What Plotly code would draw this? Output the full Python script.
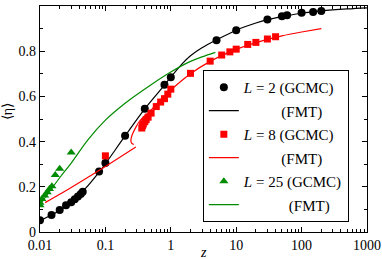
import plotly.graph_objects as go

# ---- data ----
z_L2_gcmc = [0.01, 0.015, 0.02, 0.025, 0.03, 0.034, 0.038, 0.042, 0.045, 0.08, 0.1, 0.2,
             0.4, 0.8, 1.0, 5, 10, 30, 50, 60, 100, 150, 200]
eta_L2_gcmc = [0.052, 0.075, 0.097, 0.118, 0.132, 0.145, 0.157, 0.168, 0.178, 0.268, 0.305, 0.426,
               0.545, 0.651, 0.685, 0.849, 0.893, 0.940, 0.955, 0.959, 0.970, 0.974, 0.978]

z_L2_fmt = [0.01, 0.02, 0.03, 0.05, 0.08, 0.1, 0.2, 0.4, 0.8, 1, 1.5, 2, 3, 5, 10, 20, 30,
            50, 100, 200, 500, 1000]
eta_L2_fmt = [0.05, 0.095, 0.13, 0.194, 0.265, 0.302, 0.425, 0.545, 0.65, 0.685, 0.745, 0.78,
              0.815, 0.85, 0.893, 0.925, 0.94, 0.953, 0.968, 0.978, 0.987, 0.992]

z_L8_gcmc = [0.1, 0.36, 0.37, 0.38, 0.40, 0.42, 0.45, 0.5, 0.6, 0.7, 0.8, 0.9, 1.0, 2, 4, 6, 8,
             10, 15, 20, 30, 40]
eta_L8_gcmc = [0.337, 0.46, 0.47, 0.478, 0.488, 0.497, 0.508, 0.526, 0.555, 0.575, 0.59, 0.61,
               0.632, 0.702, 0.756, 0.783, 0.797, 0.809, 0.83, 0.839, 0.854, 0.864]

# FMT L=8: lower branch, then upper branch (separated by a gap)
z_L8_fmt_low = [0.012, 0.03, 0.1, 0.292]
eta_L8_fmt_low = [0.13, 0.197, 0.29, 0.376]
z_L8_fmt_high = [0.272, 0.252, 0.245, 0.25, 0.266, 0.293, 0.33, 0.4, 0.5, 0.7, 1, 2, 4, 10, 20,
                 50, 100, 200]
eta_L8_fmt_high = [0.387, 0.393, 0.405, 0.42, 0.44, 0.464, 0.489, 0.515, 0.54, 0.585, 0.628,
                   0.70, 0.755, 0.808, 0.838, 0.868, 0.885, 0.90]

z_L25_gcmc = [0.01, 0.01, 0.0107, 0.0118, 0.0129, 0.014, 0.0152, 0.0171, 0.02, 0.03]
eta_L25_gcmc = [0.118, 0.129, 0.146, 0.161, 0.176, 0.19, 0.202, 0.252, 0.28, 0.352]

z_L25_fmt = [0.01, 0.02, 0.03, 0.054, 0.1, 0.2, 0.5, 1, 2, 3, 4.8]
eta_L25_fmt = [0.12, 0.24, 0.305, 0.408, 0.495, 0.57, 0.652, 0.708, 0.755, 0.775, 0.795]

x_ticks = [0.01, 0.1, 1, 10, 100, 1000]
x_ticktext = ["0.01", "0.1", "1", "10", "100", "1000"]
y_ticks = [0, 0.2, 0.4, 0.6, 0.8, 1.0]
y_ticktext = ["0", "0.2", "0.4", "0.6", "0.8", "1"]

BLACK = "#000000"
RED = "#ff0000"
GREEN = "#008b00"
NB = "\u00a0"
FONT = "Liberation Serif"

fig = go.Figure()
fig.add_trace(go.Scatter(x=z_L2_gcmc, y=eta_L2_gcmc, mode="markers",
                         marker=dict(symbol="circle", size=8, color=BLACK),
                         name="<i>L</i> = 2 (GCMC)", legendgroup="a"))
fig.add_trace(go.Scatter(x=z_L2_fmt, y=eta_L2_fmt, mode="lines", line_shape="spline",
                         line=dict(color=BLACK, width=1.2),
                         name=NB * 10 + "(FMT)", legendgroup="b"))
fig.add_trace(go.Scatter(x=z_L8_gcmc, y=eta_L8_gcmc, mode="markers",
                         marker=dict(symbol="square", size=7, color=RED),
                         name="<i>L</i> = 8 (GCMC)", legendgroup="c"))
fig.add_trace(go.Scatter(x=z_L8_fmt_low + [None] + z_L8_fmt_high,
                         y=eta_L8_fmt_low + [None] + eta_L8_fmt_high,
                         mode="lines", line_shape="spline", line_smoothing=0.6,
                         connectgaps=False,
                         line=dict(color=RED, width=1.2),
                         name=NB * 10 + "(FMT)", legendgroup="d"))
fig.add_trace(go.Scatter(x=z_L25_gcmc, y=eta_L25_gcmc, mode="markers",
                         marker=dict(symbol="triangle-up", size=8, color=GREEN),
                         name="<i>L</i> = 25 (GCMC)", legendgroup="e"))
fig.add_trace(go.Scatter(x=z_L25_fmt, y=eta_L25_fmt, mode="lines", line_shape="spline",
                         line=dict(color=GREEN, width=1.2),
                         name=NB * 12 + "(FMT)", legendgroup="f"))

minor_x = [k * 10 ** e for e in range(-2, 3) for k in range(2, 10)]

fig.update_layout(
    width=382, height=259,
    margin=dict(l=40, r=15, t=6, b=27),
    paper_bgcolor="white", plot_bgcolor="white",
    font=dict(family=FONT, size=14, color="black"),
    showlegend=True,
    legend=dict(x=0.498, y=0.717, xanchor="left", yanchor="top",
                bordercolor="black", borderwidth=1, bgcolor="white",
                font=dict(family=FONT, size=15, color="black"),
                tracegroupgap=1, itemwidth=30),
    annotations=[
        dict(text="\u27e8\u03b7\u27e9", xref="paper", yref="paper", x=0, y=0.53,
             xanchor="center", yanchor="middle", xshift=-33, textangle=-90,
             showarrow=False, font=dict(family=FONT, size=14)),
        dict(text="<i>z</i>", xref="paper", yref="paper", x=0.5, y=0,
             xanchor="center", yanchor="middle", yshift=-20, showarrow=False,
             font=dict(family=FONT, size=14)),
    ],
)
fig.update_xaxes(
    type="log", range=[-2, 3], automargin=False,
    tickmode="array", tickvals=x_ticks, ticktext=x_ticktext,
    ticks="inside", ticklen=5, tickwidth=1, tickcolor="black",
    showline=True, linecolor="black", linewidth=1.2, mirror="allticks",
    showgrid=False, zeroline=False,
    tickfont=dict(family=FONT, size=14),
    minor=dict(tickmode="array", tickvals=minor_x, ticks="inside", ticklen=3,
               tickwidth=1, tickcolor="black", showgrid=False),
)
fig.update_yaxes(
    range=[0, 1], automargin=False,
    tickmode="array", tickvals=y_ticks, ticktext=y_ticktext,
    ticks="inside", ticklen=5, tickwidth=1, tickcolor="black",
    showline=True, linecolor="black", linewidth=1.2, mirror="allticks",
    showgrid=False, zeroline=False,
    tickfont=dict(family=FONT, size=14),
    minor=dict(dtick=0.1, tick0=0, ticks="inside", ticklen=3, tickwidth=1,
               tickcolor="black", showgrid=False),
)

fig.write_html("out.html", config={"displayModeBar": False},
               post_script="document.body.style.margin='0';")
